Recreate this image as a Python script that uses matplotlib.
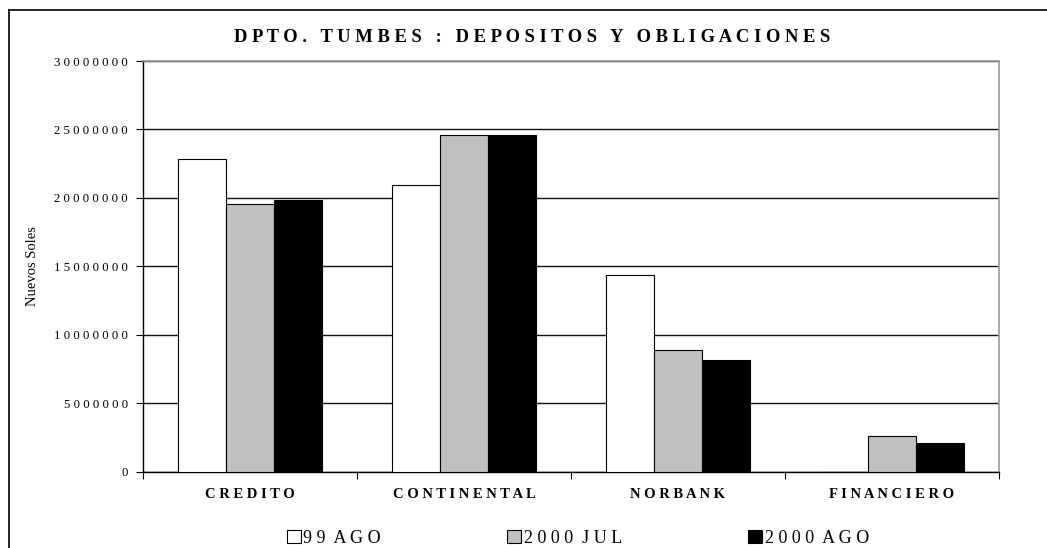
import matplotlib
matplotlib.use("Agg")
import matplotlib.pyplot as plt
from matplotlib.lines import Line2D
import numpy as np

categories = ["CREDITO", "CONTINENTAL", "NORBANK", "FINANCIERO"]
series_names = ["99 AGO", "2000 JUL", "2000 AGO"]
ago99 = [22850000, 20950000, 14380000, 0]
jul2000 = [19520000, 24570000, 8860000, 2620000]
ago2000 = [19840000, 24620000, 8170000, 2080000]
yticks = [0, 5000000, 10000000, 15000000, 20000000, 25000000, 30000000]
title = "DPTO. TUMBES : DEPOSITOS Y OBLIGACIONES"
ylabel = "Nuevos Soles"

colors = ["#FFFFFF", "#C0C0C0", "#000000"]


def spaced(s, gap=" ", wordgap="   "):
    words = s.split(" ")
    return wordgap.join(gap.join(list(w)) for w in words)


plt.rcParams['font.family'] = ['Liberation Serif', 'DejaVu Serif']

W, H = 1047, 548
fig = plt.figure(figsize=(W / 100, H / 100), dpi=100)
ax = fig.add_axes([143 / W, 1 - 471.5 / H, (999 - 143) / W, (471.5 - 61) / H])

x = np.arange(len(categories))
bw = 0.2234
for i, (vals, name) in enumerate(zip([ago99, jul2000, ago2000], series_names)):
    ax.bar(x + (i - 1) * bw, vals, bw, color=colors[i], edgecolor="black",
           linewidth=0.8, label=spaced(name, " ", "  "), zorder=3)

ax.set_xlim(-0.5, len(categories) - 0.5)
ax.set_ylim(0, 30000000)
ax.set_yticks(yticks)
ax.set_yticklabels([spaced(str(v)) for v in yticks], fontsize=9.2)
ax.yaxis.grid(True, color="#111111", linewidth=1.0, zorder=0)
ax.set_axisbelow(True)

ax.set_xticks(np.arange(len(categories) + 1) - 0.5)
ax.set_xticklabels([])
ax.set_xticks(x, minor=True)
ax.set_xticklabels([spaced(c, " ") for c in categories], minor=True,
                   fontsize=10.5, fontweight="bold")
ax.tick_params(axis="x", which="minor", length=0, pad=12)
ax.tick_params(axis="x", which="major", length=5, direction="out", color="black")
ax.tick_params(axis="y", length=5, direction="out", pad=6)

for s in ["top", "right"]:
    ax.spines[s].set_color("#999999")
    ax.spines[s].set_linewidth(1.2)
for s in ["left", "bottom"]:
    ax.spines[s].set_color("black")
    ax.spines[s].set_linewidth(1.0)

fig.text(532 / W, 1 - 38 / H, spaced(title, " ", "   "), ha="center", va="center",
         fontsize=13.4, fontweight="bold")
fig.text(32 / W, 1 - 266 / H, ylabel, rotation=90, ha="center", va="center",
         fontsize=10.5)

leg = fig.legend(loc="center", bbox_to_anchor=(578 / W, 1 - 538.5 / H), ncol=3,
                 frameon=False, fontsize=13, handlelength=0.75, handleheight=0.7,
                 handletextpad=0.15, columnspacing=7.0)

# outer chart border (top and left visible)
fig.add_artist(Line2D([9 / W, 1.0], [1 - 10 / H, 1 - 10 / H], transform=fig.transFigure,
                      color="black", linewidth=1.2))
fig.add_artist(Line2D([9 / W, 9 / W], [1 - 10 / H, 0], transform=fig.transFigure,
                      color="black", linewidth=1.2))

fig.savefig("out.png", dpi=100)
